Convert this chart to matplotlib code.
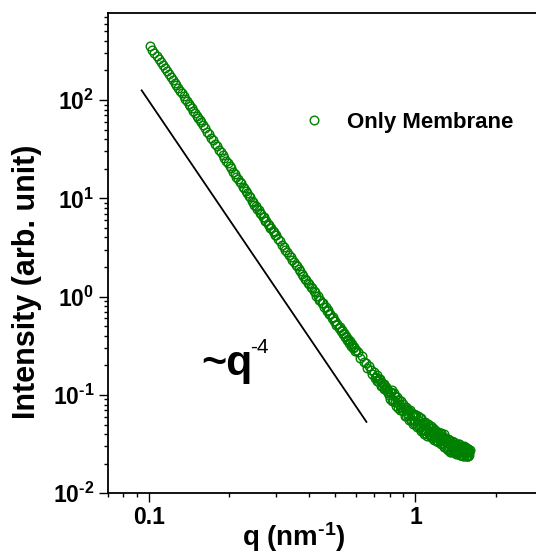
import numpy as np
import matplotlib
matplotlib.use("Agg")
import matplotlib.pyplot as plt
from matplotlib.ticker import LogLocator, FuncFormatter, NullFormatter

# ---- scattering data: q (nm^-1) and intensity (arb. unit) ----
q_low = [0.101, 0.103, 0.105, 0.107, 0.109, 0.111, 0.113, 0.115, 0.117, 0.119,
         0.121, 0.123, 0.125, 0.127, 0.129, 0.131, 0.133, 0.135, 0.137, 0.139,
         0.141, 0.143, 0.145, 0.147, 0.149, 0.151, 0.153, 0.155, 0.157, 0.159]
i_low = [353.1, 326.4, 302.3, 280.3, 260.3, 242.0, 225.3, 210.1, 196.1, 183.2,
         171.4, 160.5, 150.5, 141.2, 132.7, 124.6, 117.2, 110.2, 103.7, 97.75,
         92.19, 86.98, 82.17, 77.68, 73.46, 69.55, 65.89, 62.44, 59.23, 56.23]

q_mid1 = [0.162, 0.165, 0.168, 0.171, 0.174, 0.177, 0.180, 0.183, 0.186, 0.189,
          0.192, 0.195, 0.198, 0.201, 0.204, 0.207, 0.210, 0.213, 0.216, 0.219,
          0.222, 0.225, 0.228, 0.231, 0.234, 0.237, 0.240, 0.243, 0.246, 0.249,
          0.252, 0.255, 0.258, 0.261, 0.264, 0.267, 0.270, 0.273, 0.276, 0.279,
          0.282, 0.285, 0.288, 0.291, 0.294, 0.297, 0.300]
i_mid1 = [52.4, 47.8, 45.1, 41.3, 39.0, 35.8, 33.9, 31.2, 29.6, 27.3,
          25.9, 23.9, 22.9, 21.1, 20.2, 18.6, 17.9, 16.5, 15.9, 14.7,
          14.2, 13.1, 12.7, 11.8, 11.4, 10.5, 10.3, 9.51, 9.26, 8.58,
          8.41, 7.83, 7.66, 7.12, 6.99, 6.51, 6.39, 5.95, 5.86, 5.46,
          5.38, 5.01, 4.95, 4.61, 4.56, 4.25, 4.21]

q_mid2 = [0.305, 0.310, 0.315, 0.320, 0.325, 0.330, 0.335, 0.340, 0.345, 0.350,
          0.355, 0.360, 0.365, 0.370, 0.375, 0.380, 0.385, 0.390, 0.395, 0.400,
          0.405, 0.410, 0.415, 0.420, 0.425, 0.430, 0.435, 0.440, 0.445, 0.450,
          0.455, 0.460, 0.465, 0.470, 0.475, 0.480, 0.485, 0.490, 0.495, 0.500,
          0.505, 0.510, 0.515, 0.520, 0.525, 0.530, 0.535, 0.540, 0.545, 0.550,
          0.555, 0.560, 0.565, 0.570, 0.575, 0.580, 0.585, 0.590, 0.595, 0.600]
i_mid2 = [3.883, 3.66, 3.39, 3.23, 3.00, 2.86, 2.66, 2.54, 2.36, 2.27,
          2.11, 2.03, 1.89, 1.83, 1.69, 1.64, 1.52, 1.49, 1.38, 1.35,
          1.24, 1.23, 1.13, 1.12, 1.02, 1.02, 0.935, 0.932, 0.856, 0.859,
          0.786, 0.788, 0.722, 0.726, 0.662, 0.668, 0.612, 0.619, 0.566, 0.572,
          0.521, 0.531, 0.484, 0.494, 0.449, 0.459, 0.419, 0.429, 0.390, 0.399,
          0.363, 0.374, 0.340, 0.350, 0.318, 0.328, 0.298, 0.308, 0.280, 0.290]

q_high = [0.61, 0.62, 0.63, 0.64, 0.65, 0.66, 0.67, 0.68, 0.69, 0.70,
          0.71, 0.72, 0.73, 0.74, 0.75, 0.76, 0.77, 0.78, 0.79, 0.80,
          0.81, 0.82, 0.83, 0.84, 0.85, 0.86, 0.87, 0.88, 0.89, 0.90,
          0.91, 0.92, 0.93, 0.94, 0.95, 0.96, 0.97, 0.98, 0.99, 1.00,
          1.01, 1.02, 1.03, 1.04, 1.05, 1.06, 1.07, 1.08, 1.09, 1.10,
          1.11, 1.12, 1.13, 1.14, 1.15, 1.16, 1.17, 1.18, 1.19, 1.20,
          1.21, 1.22, 1.23, 1.24, 1.25, 1.26, 1.27, 1.28, 1.29, 1.30,
          1.31, 1.32, 1.33, 1.34, 1.35, 1.36, 1.37, 1.38, 1.39, 1.40,
          1.41, 1.42, 1.43, 1.44, 1.45, 1.46, 1.47, 1.48, 1.49, 1.50,
          1.51, 1.52, 1.53, 1.54, 1.55, 1.56, 1.57, 1.58, 1.59, 1.60]
i_high = [0.2717, 0.2387, 0.2463, 0.2173, 0.2118, 0.1887, 0.1959, 0.1788, 0.1648, 0.1714,
          0.1525, 0.1396, 0.1444, 0.1367, 0.1231, 0.1288, 0.1152, 0.1139, 0.1041, 0.1083,
          0.1082, 0.0869, 0.1042, 0.0852, 0.0892, 0.0737, 0.0890, 0.0760, 0.0697, 0.0816,
          0.0713, 0.0616, 0.0712, 0.0615, 0.0693, 0.0563, 0.0627, 0.0512, 0.0643, 0.0538,
          0.0492, 0.0605, 0.0507, 0.0589, 0.0431, 0.0516, 0.0447, 0.0518, 0.0407, 0.0463,
          0.0508, 0.0399, 0.0427, 0.0458, 0.0363, 0.0459, 0.0384, 0.0414, 0.0350, 0.0410,
          0.0420, 0.0332, 0.0379, 0.0341, 0.0410, 0.0323, 0.0347, 0.0375, 0.0298, 0.0357,
          0.0296, 0.0354, 0.0275, 0.0314, 0.0339, 0.0262, 0.0320, 0.0284, 0.0335, 0.0264,
          0.0286, 0.0316, 0.0256, 0.0298, 0.0261, 0.0314, 0.0243, 0.0284, 0.0265, 0.0296,
          0.0240, 0.0286, 0.0251, 0.0295, 0.0240, 0.0263, 0.0283, 0.0239, 0.0269, 0.0276]

q_high_b = [0.705, 0.715, 0.725, 0.735, 0.745, 0.755, 0.765, 0.775, 0.785, 0.795,
            0.805, 0.815, 0.825, 0.835, 0.845, 0.855, 0.865, 0.875, 0.885, 0.895,
            0.905, 0.915, 0.925, 0.935, 0.945, 0.955, 0.965, 0.975, 0.985, 0.995,
            1.005, 1.015, 1.025, 1.035, 1.045, 1.055, 1.065, 1.075, 1.085, 1.095,
            1.105, 1.115, 1.125, 1.135, 1.145, 1.155, 1.165, 1.175, 1.185, 1.195,
            1.205, 1.215, 1.225, 1.235, 1.245, 1.255, 1.265, 1.275, 1.285, 1.295,
            1.305, 1.315, 1.325, 1.335, 1.345, 1.355, 1.365, 1.375, 1.385, 1.395,
            1.405, 1.415, 1.425, 1.435, 1.445, 1.455, 1.465, 1.475, 1.485, 1.495,
            1.505, 1.515, 1.525, 1.535, 1.545, 1.555, 1.565, 1.575, 1.585, 1.595]
i_high_b = [0.1499, 0.1579, 0.1392, 0.1453, 0.1232, 0.1279, 0.1153, 0.1198, 0.1095, 0.1009,
            0.0919, 0.1111, 0.0890, 0.0977, 0.0766, 0.0953, 0.0807, 0.0708, 0.0878, 0.0694,
            0.0760, 0.0618, 0.0750, 0.0636, 0.0555, 0.0709, 0.0562, 0.0643, 0.0523, 0.0629,
            0.0619, 0.0471, 0.0561, 0.0470, 0.0582, 0.0436, 0.0501, 0.0405, 0.0528, 0.0431,
            0.0387, 0.0486, 0.0421, 0.0380, 0.0479, 0.0380, 0.0435, 0.0345, 0.0438, 0.0371,
            0.0342, 0.0413, 0.0355, 0.0413, 0.0318, 0.0375, 0.0328, 0.0398, 0.0299, 0.0345,
            0.0350, 0.0282, 0.0353, 0.0296, 0.0265, 0.0328, 0.0297, 0.0339, 0.0264, 0.0304,
            0.0266, 0.0320, 0.0251, 0.0305, 0.0268, 0.0317, 0.0247, 0.0279, 0.0300, 0.0247,
            0.0284, 0.0237, 0.0301, 0.0256, 0.0284, 0.0237, 0.0288, 0.0242, 0.0265, 0.0245]

q_data = np.array(q_low + q_mid1 + q_mid2 + q_high + q_high_b)
i_data = np.array(i_low + i_mid1 + i_mid2 + i_high + i_high_b)
order = np.argsort(q_data)
q_data, i_data = q_data[order], i_data[order]

# Porod guide line, I ~ A * q^-4
guide_q = np.array([0.094, 0.655])
guide_prefactor = 0.0098
guide_exponent = -4

series_label = "Only Membrane"
green = "#008000"

plt.rcParams.update({
    "font.family": ["Liberation Sans", "DejaVu Sans"],
    "font.weight": "bold",
    "mathtext.fontset": "custom",
    "mathtext.rm": "Liberation Sans:bold",
    "mathtext.bf": "Liberation Sans:bold",
    "mathtext.it": "Liberation Sans:bold:italic",
    "mathtext.default": "rm",
    "axes.linewidth": 1.3,
})

fig = plt.figure(figsize=(5.36, 5.54), dpi=100)
ax = fig.add_axes([0.2006, 0.1096, 0.8118, 0.8661])

ax.plot(q_data, i_data, "o", mfc="none", mec=green, ms=6.2, mew=1.0,
        label=series_label, zorder=3)
ax.plot(guide_q, guide_prefactor * guide_q ** guide_exponent, color="black",
        lw=1.3, zorder=2)

ax.set_xscale("log")
ax.set_yscale("log")
ax.set_xlim(0.07, 3.0)
ax.set_ylim(0.01, 760)

ax.xaxis.set_major_locator(LogLocator(base=10))
ax.xaxis.set_minor_locator(LogLocator(base=10, subs=np.arange(2, 10)))
ax.yaxis.set_major_locator(LogLocator(base=10))
ax.yaxis.set_minor_locator(LogLocator(base=10, subs=np.arange(2, 10)))
ax.xaxis.set_major_formatter(FuncFormatter(lambda v, _: "%g" % v))
ax.yaxis.set_major_formatter(
    FuncFormatter(lambda v, _: r"$10^{\text{%d}}$" % int(round(np.log10(v)))))
ax.xaxis.set_minor_formatter(NullFormatter())
ax.yaxis.set_minor_formatter(NullFormatter())

ax.tick_params(which="both", direction="out", top=False, right=False,
               width=1.0, labelsize=16.5)
ax.tick_params(which="major", length=6.5, pad=3)
ax.tick_params(which="minor", length=3.2)

ax.set_xlabel(r"q (nm$^{\text{-1}}$)", fontsize=20, fontweight="bold")
ax.xaxis.set_label_coords(0.4286, -0.057)
ax.set_ylabel("Intensity (arb. unit)", fontsize=22, fontweight="bold")
ax.yaxis.set_label_coords(-0.1505, 0.44)

ax.text(0.1566, 0.1605, "~q", fontsize=31, fontweight="bold",
        ha="left", va="baseline")
ax.text(0.239, 0.2666, "-4", fontsize=15, fontweight="normal",
        ha="left", va="baseline")

ax.legend(loc="center left", bbox_to_anchor=(302.8 / 536, 1 - 122.4 / 554),
          bbox_transform=fig.transFigure, frameon=False, numpoints=1,
          handlelength=1.0, handletextpad=1.0, borderpad=0, borderaxespad=0,
          prop={"weight": "bold", "size": 16})

fig.savefig("out.png", dpi=100)
